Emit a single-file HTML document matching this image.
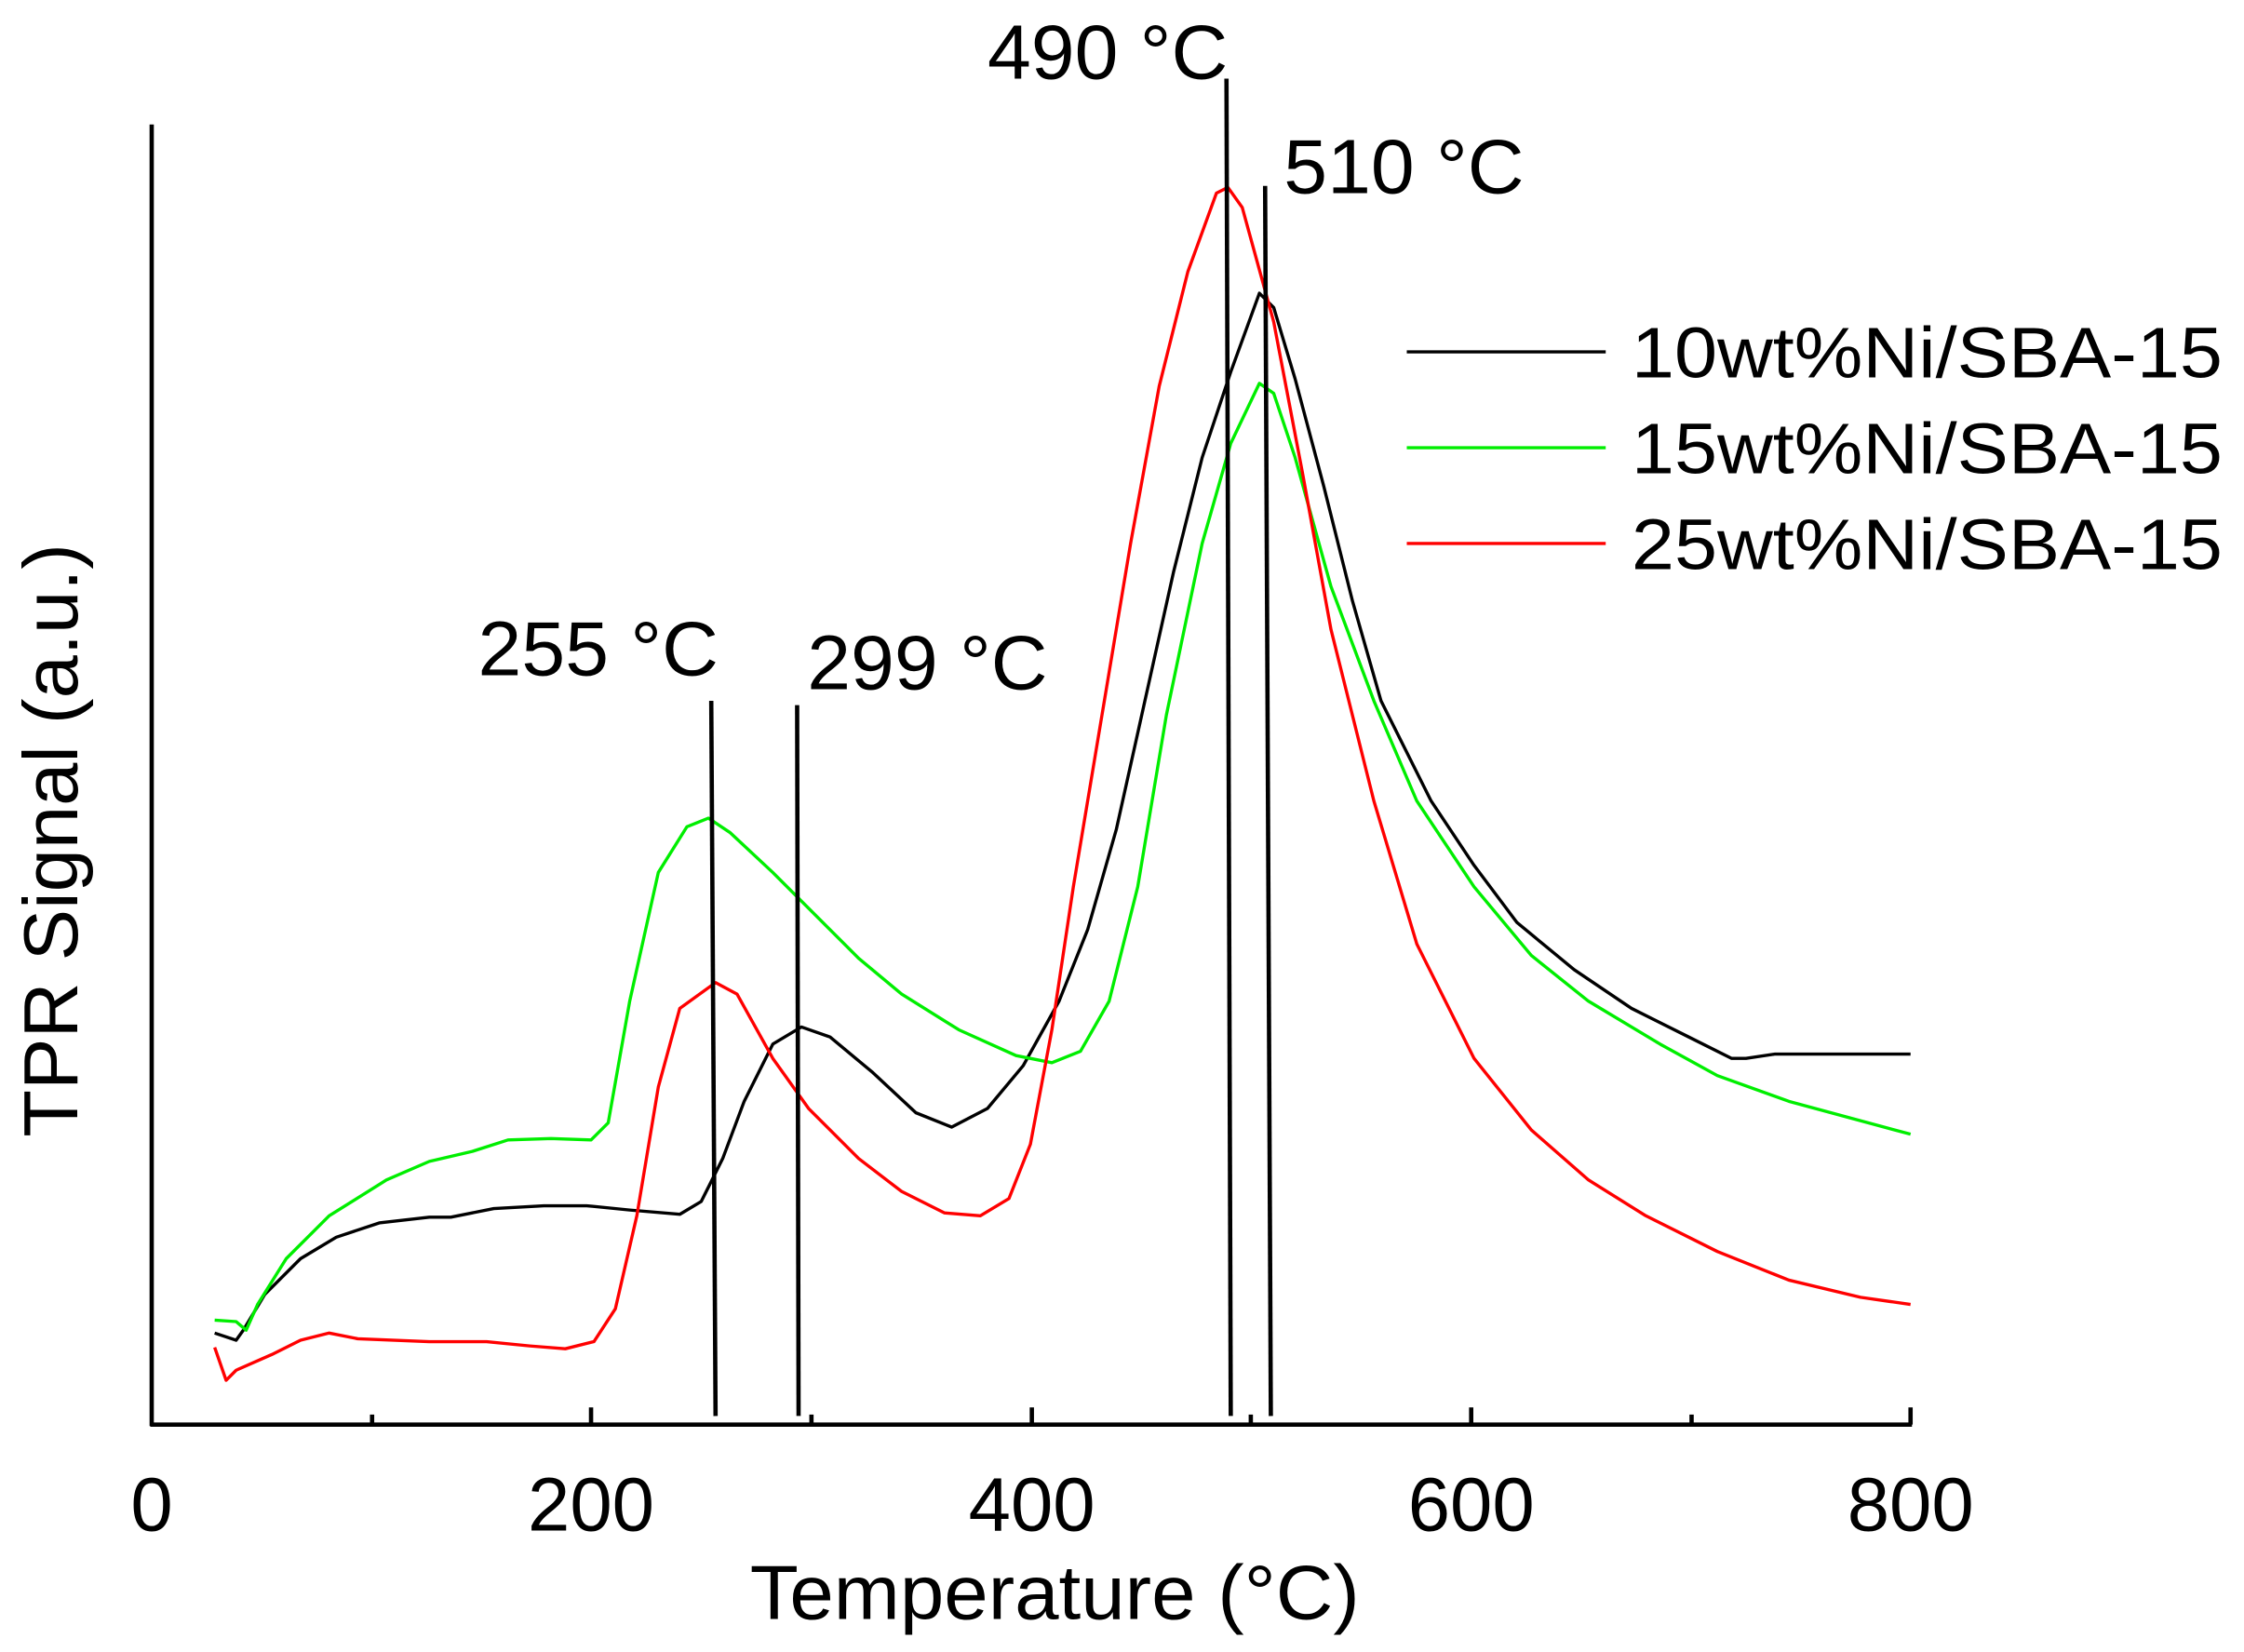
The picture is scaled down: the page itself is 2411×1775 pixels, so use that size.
<!DOCTYPE html>
<html><head><meta charset="utf-8"><style>
html,body{margin:0;padding:0;background:#fff;}
svg{display:block;}
text{font-family:"Liberation Sans",Arial,sans-serif;fill:#000;}
</style></head><body>
<svg width="2411" height="1775" viewBox="0 0 1568 1155" preserveAspectRatio="none" xmlns="http://www.w3.org/2000/svg">
<rect width="1568" height="1155" fill="#fff"/>
<g stroke="#000" stroke-width="3" fill="none">
<line x1="106" y1="87" x2="106" y2="997"/>
<line x1="105" y1="996" x2="1336" y2="996"/>
<line x1="413" y1="996" x2="413" y2="984"/>
<line x1="721" y1="996" x2="721" y2="984"/>
<line x1="1028" y1="996" x2="1028" y2="984"/>
<line x1="1335" y1="996" x2="1335" y2="984"/>
<line x1="260" y1="996" x2="260" y2="989"/>
<line x1="567" y1="996" x2="567" y2="989"/>
<line x1="874" y1="996" x2="874" y2="989"/>
<line x1="1182" y1="996" x2="1182" y2="989"/>
</g>
<g font-size="53" text-anchor="middle">
<text x="106" y="1070">0</text>
<text x="413" y="1070">200</text>
<text x="721" y="1070">400</text>
<text x="1028" y="1070">600</text>
<text x="1335" y="1070">800</text>
</g>
<text x="524" y="1132" font-size="54" textLength="426" lengthAdjust="spacingAndGlyphs">Temperature (°C)</text>
<text x="0" y="0" font-size="54" textLength="415" lengthAdjust="spacingAndGlyphs" transform="translate(54,795) rotate(-90)">TPR Signal (a.u.)</text>
<g fill="none" stroke-width="2.2" stroke-linejoin="round">
<polyline stroke="#000" points="150,932 165,937 170,930 185,905 210,880 235,865 265,855 300,851 315,851 345,845 380,843 410,843 440,846 475,849 490,840 505,810 520,770 540,730 560,718 580,725 610,750 640,778 665,788 690,775 715,745 740,700 760,650 780,580 800,490 820,400 840,320 860,260 880,205 890,215 905,265 925,340 945,420 965,490 1000,560 1030,605 1060,645 1100,678 1140,705 1180,725 1210,740 1220,740 1240,737 1335,737"/>
<polyline stroke="#00ee00" points="150,923 165,924 172,930 180,912 200,880 230,850 270,825 300,812 330,805 355,797 385,796 413,797 425,785 440,700 460,610 480,578 495,572 510,582 540,610 570,640 600,670 630,695 670,720 710,738 735,743 755,735 775,700 795,620 815,500 840,380 860,310 880,268 890,275 905,320 930,410 960,490 990,560 1030,620 1070,668 1110,700 1160,730 1200,752 1250,770 1335,793"/>
<polyline stroke="#ff0000" points="150,942 158,965 165,958 190,947 210,937 230,932 250,936 300,938 340,938 370,941 395,943 415,938 430,915 445,850 460,760 475,705 500,687 515,695 540,740 565,775 600,810 630,833 660,848 685,850 705,838 720,800 735,720 750,620 770,500 790,380 810,270 830,190 850,135 858,131 868,145 890,225 910,330 930,440 960,560 990,660 1030,740 1070,790 1110,825 1150,850 1200,875 1250,895 1300,907 1335,912"/>
</g>
<g stroke="#000" stroke-width="3">
<line x1="497" y1="490" x2="500" y2="990"/>
<line x1="557" y1="493" x2="558" y2="990"/>
<line x1="857" y1="55" x2="860" y2="990"/>
<line x1="884" y1="130" x2="888" y2="990"/>
</g>
<g font-size="54">
<text x="334" y="472" textLength="168" lengthAdjust="spacingAndGlyphs">255 °C</text>
<text x="564" y="482" textLength="168" lengthAdjust="spacingAndGlyphs">299 °C</text>
<text x="690" y="55" textLength="168" lengthAdjust="spacingAndGlyphs">490 °C</text>
<text x="897" y="135" textLength="168" lengthAdjust="spacingAndGlyphs">510 °C</text>
</g>
<g stroke-width="2.2">
<line x1="983" y1="246" x2="1122" y2="246" stroke="#000"/>
<line x1="983" y1="313" x2="1122" y2="313" stroke="#00ee00"/>
<line x1="983" y1="380" x2="1122" y2="380" stroke="#ff0000"/>
</g>
<g font-size="50">
<text x="1140" y="264" textLength="413" lengthAdjust="spacingAndGlyphs">10wt%Ni/SBA-15</text>
<text x="1140" y="331" textLength="413" lengthAdjust="spacingAndGlyphs">15wt%Ni/SBA-15</text>
<text x="1140" y="398" textLength="413" lengthAdjust="spacingAndGlyphs">25wt%Ni/SBA-15</text>
</g>
</svg>
</body></html>
